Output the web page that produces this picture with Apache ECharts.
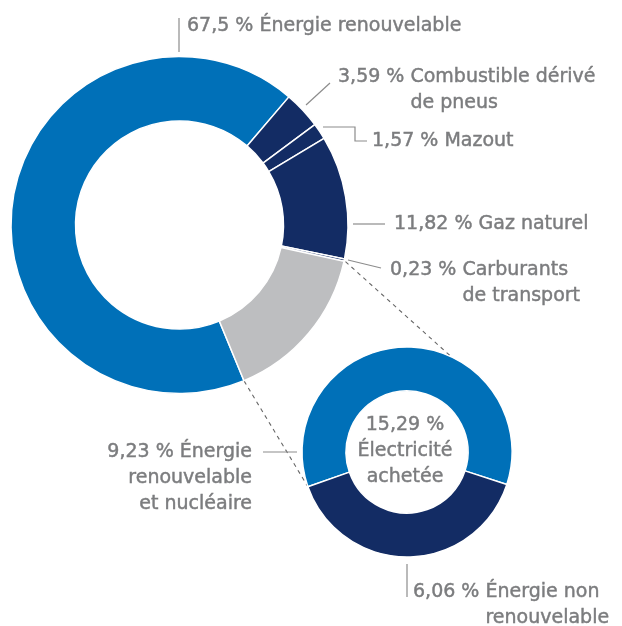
<!DOCTYPE html>
<html>
<head>
<meta charset="utf-8">
<script src="https://cdn.jsdelivr.net/npm/echarts@6/dist/echarts.min.js"></script>
<style>
html, body { margin: 0; padding: 0; background: #fff; }
#chart { width: 622px; height: 626px; }
</style>
</head>
<body>
<div id="chart"></div>
<script>
// sources d'énergie (anneau principal)
var sourceNames = ['Énergie renouvelable', 'Combustible dérivé\nde pneus', 'Mazout', 'Gaz naturel', 'Carburants\nde transport', 'Électricité\nachetée'];
var sourceValues = [67.5, 3.59, 1.57, 11.82, 0.23, 15.29];
// détail de l'électricité achetée (petit anneau)
var elecNames = ['Énergie\nrenouvelable\net nucléaire', 'Énergie non\nrenouvelable'];
var elecValues = [9.23, 6.06];

var sourceColors = ['#0070b8', '#132c64', '#132c64', '#132c64', '#132c64', '#bdbec0'];
var elecColors = ['#0070b8', '#132c64'];

var FONT = '"DejaVu Sans", sans-serif';
var FSIZE = 19;
var FWEIGHT = 'normal';
var TEXT = '#7b7c7e';
var LINE = '#8c8c8c';
var LH = 26;

var bigCenter = [179.5, 225], bigR = [104, 168.5];
var smallCenter = [407, 452], smallR = [61, 105];
var bigStart = 157.5;   // degrés, sens horaire depuis le haut
var smallStart = 250.7;

// position des étiquettes (centre de la 1re ligne) et traits de rappel
var bigLabelPos = [
    { x: 187, y: 26, align: 'left', line: [[179, 18], [179, 52]] },
    { x: 338, y: 77, align: 'left', line: [[306, 105], [330, 83]] },
    { x: 372, y: 141, align: 'left', line: [[323, 127], [355, 127], [355, 141], [367, 141]] },
    { x: 394, y: 224, align: 'left', line: [[353, 224], [385, 224]] },
    { x: 390, y: 270, align: 'left', line: [[348, 260], [381, 268]] },
    { x: 405, y: 425, align: 'center', line: null }
];
var elecLabelPos = [
    { x: 252, y: 452, align: 'right', line: [[263, 452], [297, 452]] },
    { x: 413, y: 592, align: 'left', line: [[407, 564], [407, 597]] }
];

function pct(v) {
    return String(v).replace('.', ',') + ' %';
}

var ctx = document.createElement('canvas').getContext('2d');
ctx.font = FWEIGHT + ' ' + FSIZE + 'px ' + FONT;

// "valeur nom" ; les lignes suivantes s'alignent sur le début du nom
function indentItem(v, name) {
    var head = pct(v) + ' ';
    var lines = name.split('\n');
    var txt = head + lines[0];
    for (var i = 1; i < lines.length; i++) {
        txt += '\n{pad| }' + lines[i];
    }
    return {
        formatter: txt,
        rich: { pad: { width: ctx.measureText(head).width, lineHeight: LH } }
    };
}

function makeLayout(posList) {
    return function (params) {
        var p = posList[params.dataIndex];
        var out = { x: p.x, y: p.y - LH / 2, align: p.align, verticalAlign: 'top' };
        if (p.line) out.labelLinePoints = p.line;
        return out;
    };
}

function polar(c, r, deg) {
    var a = deg * Math.PI / 180;
    return [c[0] + r * Math.sin(a), c[1] - r * Math.cos(a)];
}

var bigData = [];
for (var i = 0; i < sourceValues.length; i++) {
    var item = { value: sourceValues[i], name: sourceNames[i], itemStyle: { color: sourceColors[i] } };
    if (i === sourceValues.length - 1) {
        item.label = { formatter: pct(sourceValues[i]) + '\n' + sourceNames[i], align: 'center' };
        item.labelLine = { show: false };
    } else {
        item.label = indentItem(sourceValues[i], sourceNames[i]);
    }
    bigData.push(item);
}

var elecData = [];
for (var j = 0; j < elecValues.length; j++) {
    var it = { value: elecValues[j], name: elecNames[j], itemStyle: { color: elecColors[j] } };
    if (j === 0) {
        it.label = { formatter: pct(elecValues[j]) + ' ' + elecNames[j], align: 'right' };
    } else {
        it.label = indentItem(elecValues[j], elecNames[j]);
    }
    elecData.push(it);
}

// traits pointillés entre la tranche électricité et le petit anneau
var sumBefore = 0;
for (var k = 0; k < sourceValues.length - 1; k++) sumBefore += sourceValues[k];
var elecFrom = bigStart + sumBefore * 3.6;
var elecTo = bigStart + 360;
var dashA = [polar(bigCenter, 170, elecFrom), polar(smallCenter, smallR[1], 25)];
var dashB = [polar(bigCenter, 169, elecTo), polar(smallCenter, smallR[1], smallStart)];

// léger contour de même couleur pour un rendu « medium »
var labelStyle = {
    color: TEXT,
    fontFamily: FONT,
    fontSize: FSIZE,
    fontWeight: FWEIGHT,
    lineHeight: LH,
    textBorderColor: TEXT,
    textBorderWidth: 0.45
};
var dashStyle = { stroke: '#666', lineWidth: 1.1, lineDash: [4, 4] };

var option = {
    animation: false,
    backgroundColor: '#fff',
    graphic: [
        {
            type: 'line', z: 0, silent: true,
            shape: { x1: dashA[0][0], y1: dashA[0][1], x2: dashA[1][0], y2: dashA[1][1] },
            style: dashStyle
        },
        {
            type: 'line', z: 0, silent: true,
            shape: { x1: dashB[0][0], y1: dashB[0][1], x2: dashB[1][0], y2: dashB[1][1] },
            style: dashStyle
        }
    ],
    series: [
        {
            type: 'pie',
            center: bigCenter,
            radius: bigR,
            startAngle: 90 - bigStart,
            clockwise: true,
            avoidLabelOverlap: false,
            silent: true,
            emphasis: { disabled: true },
            itemStyle: { borderColor: '#fff', borderWidth: 1.5 },
            label: labelStyle,
            labelLine: { show: true, lineStyle: { color: LINE, width: 1.2 } },
            labelLayout: makeLayout(bigLabelPos),
            data: bigData
        },
        {
            type: 'pie',
            center: smallCenter,
            radius: smallR,
            startAngle: 90 - smallStart,
            clockwise: true,
            avoidLabelOverlap: false,
            silent: true,
            emphasis: { disabled: true },
            itemStyle: { borderColor: '#fff', borderWidth: 1.5 },
            label: labelStyle,
            labelLine: { show: true, lineStyle: { color: LINE, width: 1.2 } },
            labelLayout: makeLayout(elecLabelPos),
            data: elecData
        }
    ]
};

var myChart = echarts.init(document.getElementById('chart'));
myChart.setOption(option);
</script>
</body>
</html>
